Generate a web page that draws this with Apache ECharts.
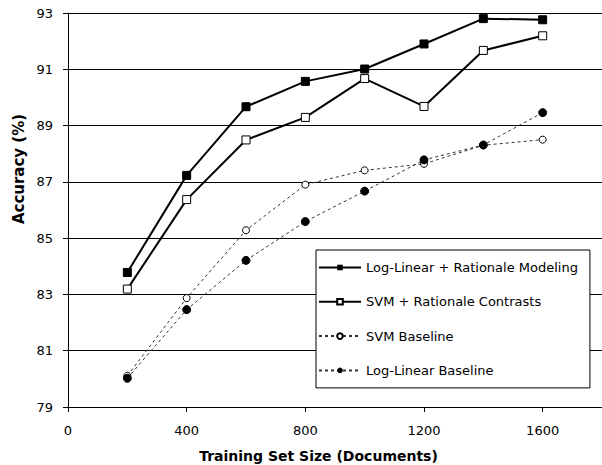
<!DOCTYPE html>
<html><head><meta charset="utf-8">
<script src="https://cdn.jsdelivr.net/npm/echarts@6/dist/echarts.min.js"></script>
<style>html,body{margin:0;padding:0;background:#fff}#c{width:602px;height:465px}</style>
</head><body><div id="c"></div>
<script>
const xValues = [200, 400, 600, 800, 1000, 1200, 1400, 1600];
const logLinearRationale = [83.78, 87.23, 89.67, 90.57, 91.01, 91.90, 92.80, 92.76];
const svmRationale = [83.19, 86.37, 88.49, 89.29, 90.67, 89.68, 91.67, 92.19];
const svmBaseline = [80.11, 82.87, 85.28, 86.90, 87.41, 87.64, 88.30, 88.50];
const logLinearBaseline = [80.02, 82.46, 84.21, 85.59, 86.67, 87.78, 88.31, 89.46];
const seriesNames = ['Log-Linear + Rationale Modeling', 'SVM + Rationale Contrasts', 'SVM Baseline', 'Log-Linear Baseline'];
const xTitle = 'Training Set Size (Documents)';
const yTitle = 'Accuracy (%)';

const pts = arr => xValues.map((x, i) => [x, arr[i]]);
const font = 'DejaVu Sans, sans-serif';
const chart = echarts.init(document.getElementById('c'), null, {renderer: 'svg'});
chart.setOption({
  animation: false,
  backgroundColor: '#fff',
  textStyle: {fontFamily: font},
  grid: {left: 68, top: 13, right: -6, bottom: 58, containLabel: false},
  xAxis: {
    type: 'value', min: 0, max: 1800, interval: 400,
    axisLine: {lineStyle: {color: '#000', width: 1}},
    axisTick: {show: true, length: 5, lineStyle: {color: '#000'}},
    axisLabel: {color: '#000', fontSize: 13, fontFamily: font, margin: 17, showMaxLabel: false,
      formatter: v => String(v)},
    splitLine: {show: false}
  },
  yAxis: {
    type: 'value', min: 79, max: 93, interval: 2,
    axisLine: {show: true, lineStyle: {color: '#000', width: 1}},
    axisTick: {show: true, length: 5, lineStyle: {color: '#000'}},
    axisLabel: {color: '#000', fontSize: 13, fontFamily: font, margin: 15, formatter: v => String(v)},
    splitLine: {show: true, lineStyle: {color: '#000', width: 1}}
  },
  legend: {
    orient: 'vertical', left: 316, top: 250,
    backgroundColor: '#fff', borderColor: '#000', borderWidth: 1,
    padding: [11, 12, 11, 2], itemGap: 21.3, itemWidth: 42, itemHeight: 7,
    textStyle: {color: '#000', fontSize: 13, fontFamily: font},
    data: seriesNames
  },
  graphic: [
    {type: 'text', x: 318.5, y: 449, style: {text: xTitle, fontSize: 14, fontWeight: 'bold', fontFamily: font, fill: '#000', textAlign: 'center', textVerticalAlign: 'top'}},
    {type: 'text', rotation: Math.PI / 2, x: 19, y: 169, style: {text: yTitle, fontSize: 15, fontWeight: 'bold', fontFamily: font, fill: '#000', textAlign: 'center', textVerticalAlign: 'middle'}}
  ],
  series: [
    {name: seriesNames[0], type: 'line', data: pts(logLinearRationale), symbol: 'rect', symbolSize: 8,
     lineStyle: {color: '#000', width: 2}, itemStyle: {color: '#000', borderColor: '#000'}, z: 5},
    {name: seriesNames[1], type: 'line', data: pts(svmRationale), symbol: 'rect', symbolSize: 8,
     lineStyle: {color: '#000', width: 2}, itemStyle: {color: '#fff', borderColor: '#000', borderWidth: 1}, z: 5},
    {name: seriesNames[2], type: 'line', data: pts(svmBaseline), symbol: 'circle', symbolSize: 7,
     lineStyle: {color: '#333', width: 1, type: [3, 3]}, itemStyle: {color: '#fff', borderColor: '#000', borderWidth: 1}, z: 4},
    {name: seriesNames[3], type: 'line', data: pts(logLinearBaseline), symbol: 'circle', symbolSize: 8,
     lineStyle: {color: '#333', width: 1, type: [3, 3]}, itemStyle: {color: '#000', borderColor: '#000'}, z: 4}
  ]
});
</script></body></html>
